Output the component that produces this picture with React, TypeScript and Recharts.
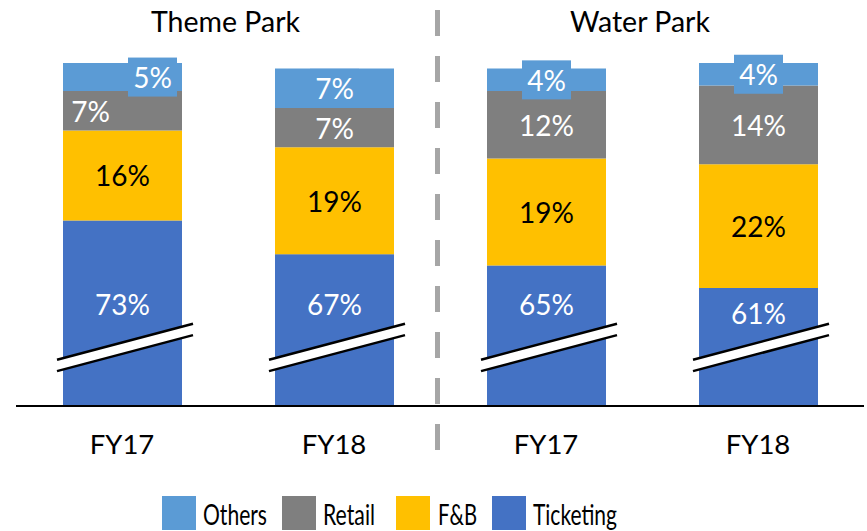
import React from 'react';
import { BarChart, Bar, XAxis, YAxis, LabelList, Customized } from 'recharts';

const categories = ['FY17', 'FY18', 'FY17', 'FY18'];
const groups = ['Theme Park', 'Water Park'];
const others = [5, 7, 4, 4];
const retail = [7, 7, 12, 14];
const fnb = [16, 19, 19, 22];
const ticketing = [73, 67, 65, 61];
const breakOffset = 40; // portion of the ticketing bar cut out by the axis break
const breakAt = 10.3; // value (from base) where break marks are drawn

const seriesNames = ['Others', 'Retail', 'F&B', 'Ticketing'];
const COLORS: Record<string, string> = {
  Others: '#5B9BD5',
  Retail: '#7F7F7F',
  'F&B': '#FFC000',
  Ticketing: '#4472C4',
};

const data = categories.map((c, i) => ({
  id: i,
  name: c,
  ticketingShown: ticketing[i] - breakOffset,
  fnb: fnb[i],
  retail: retail[i],
  others: others[i],
}));

const FONT = 'Lato, "Open Sans", sans-serif';
const othersDx = [30, 0, 0, 0];
const retailDx = [-32, 0, 0, 0];

const TicketingShape = (props: any) => {
  const { x, y, width, height, index } = props;
  const shown = ticketing[index] - breakOffset;
  const unit = height / shown;
  const base = y + height;
  const cy = base - breakAt * unit;
  const cx = x + width / 2;
  const x1 = x - 6;
  const x2 = x + width + 11;
  const slope = -36 / 136;
  const gap = 5.7;
  const yAt = (xx: number, off: number) => cy + off + slope * (xx - cx);
  return (
    <g>
      <rect x={x} y={y} width={width} height={height} fill={COLORS.Ticketing} />
      <polygon
        points={`${x1},${yAt(x1, -gap)} ${x2},${yAt(x2, -gap)} ${x2},${yAt(x2, gap)} ${x1},${yAt(x1, gap)}`}
        fill="#fff"
      />
      <line x1={x1} y1={yAt(x1, -gap)} x2={x2} y2={yAt(x2, -gap)} stroke="#000" strokeWidth={2.5} />
      <line x1={x1} y1={yAt(x1, gap)} x2={x2} y2={yAt(x2, gap)} stroke="#000" strokeWidth={2.5} />
    </g>
  );
};

const makeLabel = (arr: number[], color: string, opts: { box?: boolean; dx?: number[]; ticket?: boolean } = {}) =>
  (props: any) => {
    const { x, y, width, height, index } = props;
    const cx = x + width / 2 + (opts.dx ? opts.dx[index] : 0);
    let cy = y + height / 2;
    if (opts.ticket) {
      const shown = ticketing[index] - breakOffset;
      const unit = height / shown;
      cy = Math.max(y + 25, y + height - 18.2 * unit);
    }
    const text = `${arr[index]}%`;
    return (
      <g>
        {opts.box && (
          <rect x={cx - 24.5} y={cy - 19.5} width={49} height={39} fill={COLORS.Others} />
        )}
        <text
          x={cx}
          y={cy}
          textAnchor="middle"
          dominantBaseline="central"
          fill={color}
          fontSize={28}
          fontFamily={FONT}
        >
          {text}
        </text>
      </g>
    );
  };

const Decorations = () => {
  const legendX = [162, 282, 396, 492];
  const textX = [203, 323, 438, 533];
  const textW = [64, 52, 39, 84];
  return (
    <g>
      <text x={225.5} y={21} textAnchor="middle" dominantBaseline="central" fontSize={28.5} fontFamily={FONT} fill="#000">
        {groups[0]}
      </text>
      <text x={640} y={21} textAnchor="middle" dominantBaseline="central" fontSize={28.5} fontFamily={FONT} fill="#000">
        {groups[1]}
      </text>
      <line x1={437.5} y1={10} x2={437.5} y2={462} stroke="#A6A6A6" strokeWidth={5} strokeDasharray="26 20" />
      {seriesNames.map((n, i) => (
        <g key={n}>
          <rect x={legendX[i]} y={496} width={34} height={34} fill={COLORS[n]} />
          <text
            x={textX[i]}
            y={525}
            fontSize={28}
            fontFamily={FONT}
            fill="#000"
            textLength={textW[i]}
            lengthAdjust="spacingAndGlyphs"
          >
            {n}
          </text>
        </g>
      ))}
    </g>
  );
};

export default function App() {
  return (
    <div style={{ position: 'absolute', left: 0, top: 0, width: 867, height: 531, background: '#fff' }}>
      <BarChart
        width={867}
        height={531}
        data={data}
        margin={{ top: 63, right: 3, bottom: 65, left: 16 }}
        barSize={119}
      >
        <XAxis
          dataKey="id"
          type="category"
          height={60}
          tickFormatter={(v: any) => categories[v]}
          axisLine={{ stroke: '#000', strokeWidth: 2 }}
          tickLine={false}
          tickSize={0}
          tickMargin={28}
          tick={{ fill: '#000', fontSize: 27.5, fontFamily: FONT }}
        />
        <YAxis hide domain={[0, 61]} />
        <Bar dataKey="ticketingShown" stackId="a" fill={COLORS.Ticketing} isAnimationActive={false} shape={TicketingShape}>
          <LabelList content={makeLabel(ticketing, '#fff', { ticket: true })} />
        </Bar>
        <Bar dataKey="fnb" stackId="a" fill={COLORS['F&B']} isAnimationActive={false}>
          <LabelList content={makeLabel(fnb, '#000')} />
        </Bar>
        <Bar dataKey="retail" stackId="a" fill={COLORS.Retail} isAnimationActive={false}>
          <LabelList content={makeLabel(retail, '#fff', { dx: retailDx })} />
        </Bar>
        <Bar dataKey="others" stackId="a" fill={COLORS.Others} isAnimationActive={false}>
          <LabelList content={makeLabel(others, '#fff', { box: true, dx: othersDx })} />
        </Bar>
        <Customized component={<Decorations />} />
      </BarChart>
    </div>
  );
}
